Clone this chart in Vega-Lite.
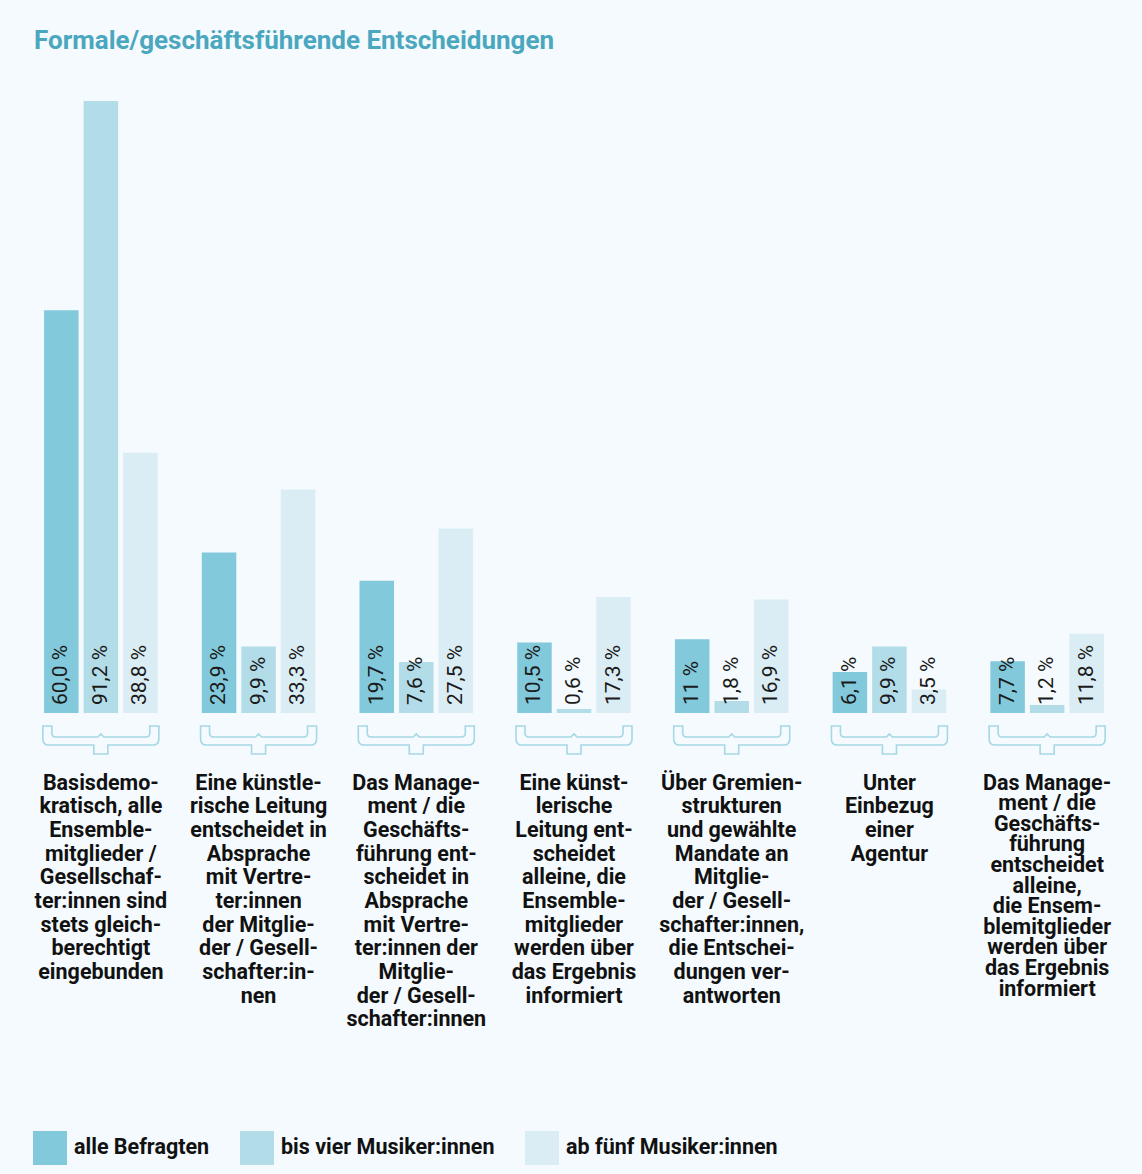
{
  "$schema": "https://vega.github.io/schema/vega-lite/v6.json",
  "autosize": {"type": "none"},
  "width": 1104,
  "height": 612,
  "padding": {"left": 22, "top": 101, "right": 16, "bottom": 461},
  "background": "#f4fafd",
  "title": {
    "text": "Formale/geschäftsführende Entscheidungen",
    "anchor": "start",
    "frame": "group",
    "font": "Roboto",
    "fontSize": 26,
    "fontWeight": "bold",
    "color": "#4aa7bf",
    "dx": 12,
    "offset": 47
  },
  "config": {"view": {"stroke": null}},
  "datasets": {
    "bars": [
      {"cat": "1", "group": "alle Befragten", "value": 60.0, "label": "60,0 %"},
      {"cat": "1", "group": "bis vier Musiker:innen", "value": 91.2, "label": "91,2 %"},
      {"cat": "1", "group": "ab fünf Musiker:innen", "value": 38.8, "label": "38,8 %"},
      {"cat": "2", "group": "alle Befragten", "value": 23.9, "label": "23,9 %"},
      {"cat": "2", "group": "bis vier Musiker:innen", "value": 9.9, "label": "9,9 %"},
      {"cat": "2", "group": "ab fünf Musiker:innen", "value": 33.3, "label": "33,3 %"},
      {"cat": "3", "group": "alle Befragten", "value": 19.7, "label": "19,7 %"},
      {"cat": "3", "group": "bis vier Musiker:innen", "value": 7.6, "label": "7,6 %"},
      {"cat": "3", "group": "ab fünf Musiker:innen", "value": 27.5, "label": "27,5 %"},
      {"cat": "4", "group": "alle Befragten", "value": 10.5, "label": "10,5 %"},
      {"cat": "4", "group": "bis vier Musiker:innen", "value": 0.6, "label": "0,6 %"},
      {"cat": "4", "group": "ab fünf Musiker:innen", "value": 17.3, "label": "17,3 %"},
      {"cat": "5", "group": "alle Befragten", "value": 11, "label": "11 %"},
      {"cat": "5", "group": "bis vier Musiker:innen", "value": 1.8, "label": "1,8 %"},
      {"cat": "5", "group": "ab fünf Musiker:innen", "value": 16.9, "label": "16,9 %"},
      {"cat": "6", "group": "alle Befragten", "value": 6.1, "label": "6,1 %"},
      {"cat": "6", "group": "bis vier Musiker:innen", "value": 9.9, "label": "9,9 %"},
      {"cat": "6", "group": "ab fünf Musiker:innen", "value": 3.5, "label": "3,5 %"},
      {"cat": "7", "group": "alle Befragten", "value": 7.7, "label": "7,7 %"},
      {"cat": "7", "group": "bis vier Musiker:innen", "value": 1.2, "label": "1,2 %"},
      {"cat": "7", "group": "ab fünf Musiker:innen", "value": 11.8, "label": "11,8 %"}
    ],
    "cats": [
      {"cat": "1", "text": "Basisdemo-\nkratisch, alle\nEnsemble-\nmitglieder /\nGesellschaf-\nter:innen sind\nstets gleich-\nberechtigt\neingebunden"},
      {"cat": "2", "text": "Eine künstle-\nrische Leitung\nentscheidet in\nAbsprache\nmit Vertre-\nter:innen\nder Mitglie-\nder / Gesell-\nschafter:in-\nnen"},
      {"cat": "3", "text": "Das Manage-\nment / die\nGeschäfts-\nführung ent-\nscheidet in\nAbsprache\nmit Vertre-\nter:innen der\nMitglie-\nder / Gesell-\nschafter:innen"},
      {"cat": "4", "text": "Eine künst-\nlerische\nLeitung ent-\nscheidet\nalleine, die\nEnsemble-\nmitglieder\nwerden über\ndas Ergebnis\ninformiert"},
      {"cat": "5", "text": "Über Gremien-\nstrukturen\nund gewählte\nMandate an\nMitglie-\nder / Gesell-\nschafter:innen,\ndie Entschei-\ndungen ver-\nantworten"},
      {"cat": "6", "text": "Unter\nEinbezug\neiner\nAgentur"},
      {"cat": "7", "text": "Das Manage-\nment / die\nGeschäfts-\nführung\nentscheidet\nalleine,\ndie Ensem-\nblemitglieder\nwerden über\ndas Ergebnis\ninformiert"}
    ]
  },
  "layer": [
    {
      "data": {"name": "bars"},
      "mark": {"type": "bar"},
      "encoding": {
        "x": {"field": "cat", "type": "nominal", "axis": null, "scale": {"paddingInner": 0.28, "paddingOuter": 0.14}},
        "xOffset": {"field": "group", "type": "nominal", "sort": ["alle Befragten", "bis vier Musiker:innen", "ab fünf Musiker:innen"], "scale": {"paddingInner": 0.127, "paddingOuter": 0}},
        "y": {"field": "value", "type": "quantitative", "axis": null, "scale": {"domain": [0, 91.2], "nice": false}},
        "color": {
          "field": "group", "type": "nominal",
          "scale": {"domain": ["alle Befragten", "bis vier Musiker:innen", "ab fünf Musiker:innen"], "range": ["#82c9db", "#b2dce8", "#daedf4"]},
          "legend": {
            "orient": "none", "legendX": 11, "legendY": 1030, "direction": "horizontal",
            "title": null, "padding": 0,
            "symbolType": "square", "symbolSize": 1156, "symbolStrokeWidth": 0, "symbolOpacity": 1,
            "labelFont": "Roboto", "labelFontSize": 21.5, "labelFontWeight": "bold", "labelColor": "#111111",
            "labelOffset": 7, "columnPadding": 30, "labelLimit": 400
          }
        }
      }
    },
    {
      "data": {"name": "bars"},
      "mark": {"type": "text", "angle": 270, "align": "left", "baseline": "middle", "dx": 8, "font": "Roboto", "fontSize": 21, "color": "#1a1a1a"},
      "encoding": {
        "x": {"field": "cat", "type": "nominal"},
        "xOffset": {"field": "group", "type": "nominal", "sort": ["alle Befragten", "bis vier Musiker:innen", "ab fünf Musiker:innen"]},
        "y": {"datum": 0},
        "text": {"field": "label"}
      }
    },
    {
      "data": {"name": "cats"},
      "mark": {
        "type": "point", "filled": false, "fill": "#f4fafd", "stroke": "#a6d7e5", "strokeWidth": 1.6, "opacity": 1, "size": 13456,
        "shape": "M-1,0.224L-1,0.448Q-1,0.552,-0.897,0.552L-0.121,0.552L-0.121,0.707L0.121,0.707L0.121,0.552L0.897,0.552Q1,0.552,1,0.448L1,0.224L0.845,0.224L0.845,0.345Q0.845,0.414,0.776,0.414L0.052,0.414L0,0.362L-0.052,0.414L-0.776,0.414Q-0.845,0.414,-0.845,0.345L-0.845,0.224Z"
      },
      "encoding": {
        "x": {"field": "cat", "type": "nominal"},
        "y": {"datum": 0}
      }
    },
    {
      "data": {"name": "cats"},
      "transform": [{"filter": "datum.cat != '7'"}],
      "mark": {"type": "text", "align": "center", "baseline": "top", "lineBreak": "\n", "lineHeight": 23.7, "dy": 59.5, "font": "Roboto", "fontSize": 21.5, "fontWeight": "bold", "color": "#111111"},
      "encoding": {
        "x": {"field": "cat", "type": "nominal"},
        "y": {"datum": 0},
        "text": {"field": "text"}
      }
    },
    {
      "data": {"name": "cats"},
      "transform": [{"filter": "datum.cat == '7'"}],
      "mark": {"type": "text", "align": "center", "baseline": "top", "lineBreak": "\n", "lineHeight": 20.6, "dy": 59.5, "font": "Roboto", "fontSize": 21.5, "fontWeight": "bold", "color": "#111111"},
      "encoding": {
        "x": {"field": "cat", "type": "nominal"},
        "y": {"datum": 0},
        "text": {"field": "text"}
      }
    }
  ]
}
